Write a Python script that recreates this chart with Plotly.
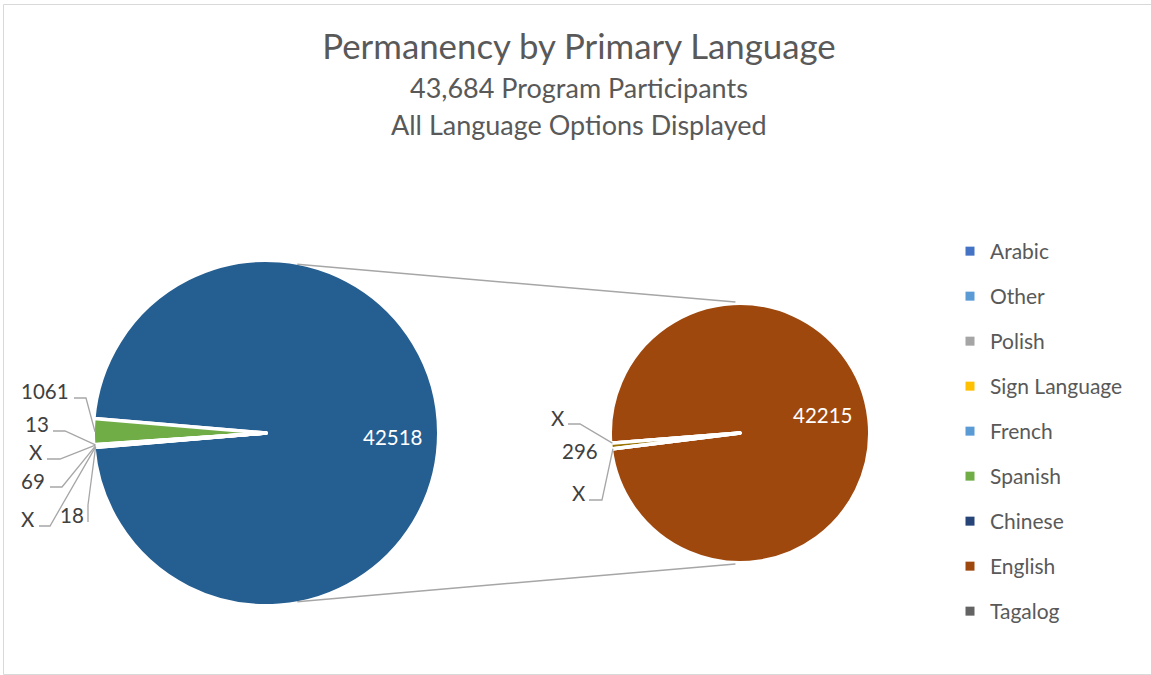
import math
import plotly.graph_objects as go

W, H = 1151, 675

# ---------------- data ----------------
total_participants = 43684

# first pie (all participants): small languages + the slice that is split out
main_labels = ["Spanish", "Arabic", "Other", "Polish", "Sign Language", "French"]
main_values = [1061, 13, 2, 69, 3, 18]
main_suppressed = [False, False, True, False, True, False]
main_colors = ["#70AD47", "#4472C4", "#5B9BD5", "#A5A5A5", "#FFC000", "#5B9BD5"]

split_label = "Second pie"
split_value = 42518
split_color = "#255E91"

# second pie (breakdown of the split slice)
second_labels = ["English", "Chinese", "Unlabelled", "Tagalog"]
second_values = [42215, 3, 296, 4]
second_suppressed = [False, True, False, True]
second_colors = ["#9E480E", "#264478", "#997300", "#636363"]

# legend as shown in the original
legend_names = ["Arabic", "Other", "Polish", "Sign Language", "French",
                "Spanish", "Chinese", "English", "Tagalog"]
legend_colors = ["#4472C4", "#5B9BD5", "#A5A5A5", "#FFC000", "#5B9BD5",
                 "#70AD47", "#264478", "#9E480E", "#636363"]

# ---------------- layout constants (pixels) ----------------
FONT = "Lato"
TEXT_GRAY = "#595959"
LABEL_GRAY = "#404040"
LINE_GRAY = "#A6A6A6"
BORDER_W = 3.5
LABEL_SIZE = 20.5

C1 = (266, 433); R1 = 171      # first pie centre / radius
C2 = (740, 433); R2 = 128      # second pie centre / radius
SPLIT_CENTER_DEG = 0.0         # math angle of split slice centre
ENGLISH_CENTER_DEG = 5.8       # math angle of English slice centre


def px(x):
    return x / W


def py(y):
    return 1 - y / H


def domain(c, r):
    rr = r + BORDER_W / 2
    return dict(x=[px(c[0] - rr), px(c[0] + rr)], y=[py(c[1] + rr), py(c[1] - rr)])


def fmt(v, s):
    return "X" if s else str(v)


# rotation so that the first listed slice is centred on the given math angle
def rotation_for(first_value, tot, center_math_deg):
    a = first_value / tot * 360.0
    return (90.0 - center_math_deg) - a / 2.0


tot1 = split_value + sum(main_values)
tot2 = sum(second_values)
rot1 = rotation_for(split_value, tot1, SPLIT_CENTER_DEG)
rot2 = rotation_for(second_values[0], tot2, ENGLISH_CENTER_DEG)


def mid_angles(values, tot, rot):
    """math-angle (deg) of each slice midpoint, plotly counterclockwise order"""
    res = []
    a_first = values[0] / tot * 360
    res.append(90 - (rot + a_first / 2))
    cur = rot
    for v in values[1:]:
        a = v / tot * 360
        res.append(90 - (cur - a / 2))
        cur -= a
    return res


m1 = mid_angles([split_value] + main_values, tot1, rot1)
m2 = mid_angles(second_values, tot2, rot2)


def edge_point(c, r, ang):
    t = math.radians(ang)
    return (c[0] + r * math.cos(t), c[1] - r * math.sin(t))


fig = go.Figure()

fig.add_trace(go.Pie(
    values=[split_value] + main_values,
    labels=[split_label] + main_labels,
    sort=False, direction="counterclockwise", rotation=rot1,
    domain=domain(C1, R1),
    marker=dict(colors=[split_color] + main_colors, line=dict(color="white", width=BORDER_W)),
    textinfo="none", showlegend=False, hoverinfo="label+value",
))
fig.add_trace(go.Pie(
    values=second_values,
    labels=second_labels,
    sort=False, direction="counterclockwise", rotation=rot2,
    domain=domain(C2, R2),
    marker=dict(colors=second_colors, line=dict(color="white", width=BORDER_W)),
    textinfo="none", showlegend=False, hoverinfo="label+value",
))

# legend entries
for i, (n, c) in enumerate(zip(legend_names, legend_colors)):
    fig.add_trace(go.Scatter(
        x=[None], y=[None], mode="markers", name=n, legendgroup=f"g{i}",
        marker=dict(symbol="square", size=9, color=c),
    ))

annotations = []
shapes = []

# inside labels
annotations.append(dict(text=str(split_value), x=px(392), y=py(437), showarrow=False,
                        font=dict(family=FONT, size=LABEL_SIZE, color="white")))
annotations.append(dict(text=str(second_values[0]), x=px(822), y=py(415), showarrow=False,
                        font=dict(family=FONT, size=LABEL_SIZE, color="white")))

# outside labels first pie: (label centre, leader start, leader elbow)
left_label_layout = [
    ((45, 391), (74, 398), (86, 398)),
    ((37, 424), (53, 431), (65, 431)),
    ((36, 452), (47, 459), (60, 459)),
    ((33, 481), (50, 487), (62, 487)),
    ((28, 519), (39, 526), (50, 526)),
    ((72, 515), (88, 522), (88, 505)),
]
for i, (v, s) in enumerate(zip(main_values, main_suppressed)):
    (lx, ly), p0, p1 = left_label_layout[i]
    annotations.append(dict(text=fmt(v, s), x=px(lx), y=py(ly), showarrow=False,
                            font=dict(family=FONT, size=LABEL_SIZE, color=LABEL_GRAY)))
    a = edge_point(C1, R1, m1[i + 1])
    shapes.append(dict(type="path", xref="paper", yref="paper",
                       path=f"M {px(p0[0])},{py(p0[1])} L {px(p1[0])},{py(p1[1])} L {px(a[0])},{py(a[1])}",
                       line=dict(color=LINE_GRAY, width=1.3)))

# outside labels second pie
right_label_layout = [
    None,
    ((558, 418), (568, 424), (580, 424)),
    ((580, 451), None, None),
    ((579, 493), (589, 500), (602, 500)),
]
for i in range(1, len(second_values)):
    (lx, ly), p0, p1 = right_label_layout[i]
    annotations.append(dict(text=fmt(second_values[i], second_suppressed[i]), x=px(lx), y=py(ly),
                            showarrow=False, font=dict(family=FONT, size=LABEL_SIZE, color=LABEL_GRAY)))
    if p0 is not None:
        a = edge_point(C2, R2, m2[i])
        shapes.append(dict(type="path", xref="paper", yref="paper",
                           path=f"M {px(p0[0])},{py(p0[1])} L {px(p1[0])},{py(p1[1])} L {px(a[0])},{py(a[1])}",
                           line=dict(color=LINE_GRAY, width=1.3)))

# connector lines between the pies
for sgn in (1, -1):
    a = edge_point(C1, R1 + 0.5, sgn * 79.5)
    b = edge_point(C2, R2 + 3, sgn * 92.0)
    shapes.append(dict(type="line", xref="paper", yref="paper",
                       x0=px(a[0]), y0=py(a[1]), x1=px(b[0]), y1=py(b[1]),
                       line=dict(color=LINE_GRAY, width=1.5)))

# chart border
shapes.append(dict(type="rect", xref="paper", yref="paper",
                   x0=px(3.5), y0=py(674.5), x1=px(1160), y1=py(4.5),
                   line=dict(color="#D9D9D9", width=1), fillcolor="rgba(0,0,0,0)", layer="below"))

# subtitles
annotations.append(dict(text=f"{total_participants:,} Program Participants", x=px(579), y=py(88),
                        showarrow=False, font=dict(family=FONT, size=27, color=TEXT_GRAY)))
annotations.append(dict(text="All Language Options Displayed", x=px(579), y=py(125),
                        showarrow=False, font=dict(family=FONT, size=27, color=TEXT_GRAY)))
for an in annotations:
    an.setdefault("xref", "paper")
    an.setdefault("yref", "paper")
    an.setdefault("xanchor", "center")
    an.setdefault("yanchor", "middle")

fig.update_layout(
    width=W, height=H, autosize=False,
    margin=dict(l=0, r=0, t=0, b=0),
    paper_bgcolor="white", plot_bgcolor="white",
    font=dict(family=FONT, color=TEXT_GRAY),
    title=dict(text="Permanency by Primary Language", x=px(579), xanchor="center",
               y=1 - 47 / H, yanchor="middle", yref="container",
               font=dict(family=FONT, size=34.8, color=TEXT_GRAY)),
    xaxis=dict(visible=False), yaxis=dict(visible=False),
    legend=dict(x=px(950), xanchor="left", y=py(231), yanchor="top",
                font=dict(family=FONT, size=21, color=TEXT_GRAY),
                tracegroupgap=14.7, bgcolor="rgba(0,0,0,0)", borderwidth=0),
    annotations=annotations,
    shapes=shapes,
)

fig.write_html("out.html", config={"displayModeBar": False},
               post_script="document.body.style.margin='0px';")
